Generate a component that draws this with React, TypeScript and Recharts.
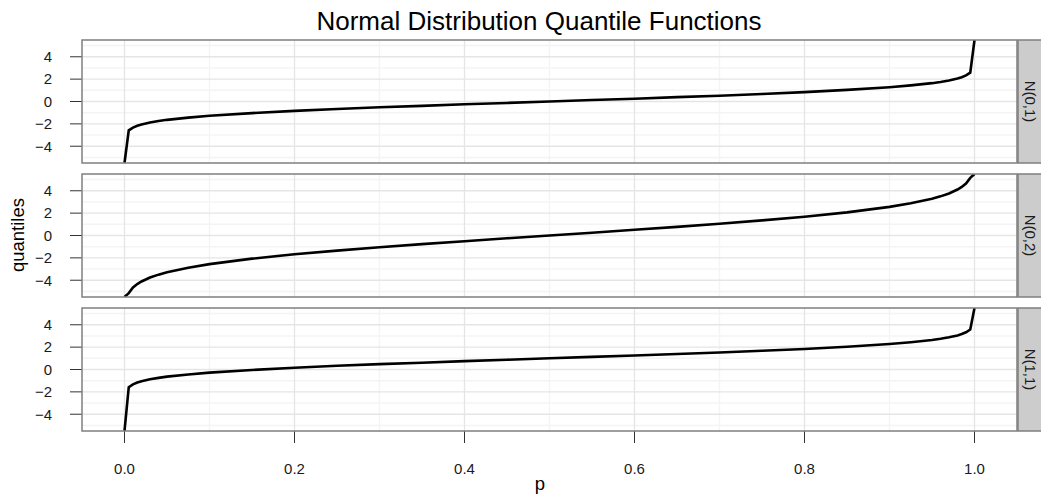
import { LineChart, Line, XAxis, YAxis, ReferenceLine } from 'recharts';

// probability grid shared by all three panels
const pValues = [
  0, 0.005, 0.01, 0.015, 0.02, 0.03, 0.04, 0.05, 0.075, 0.1,
  0.15, 0.2, 0.25, 0.3, 0.35, 0.4, 0.45, 0.5,
  0.55, 0.6, 0.65, 0.7, 0.75, 0.8, 0.85, 0.9,
  0.925, 0.95, 0.96, 0.97, 0.98, 0.985, 0.99, 0.995, 1,
];

// quantiles (ends run off the panel edge)
const n01Values = [
  -5.5, -2.58, -2.33, -2.17, -2.05, -1.88, -1.75, -1.64, -1.44, -1.28,
  -1.04, -0.84, -0.67, -0.52, -0.39, -0.25, -0.13, 0,
  0.13, 0.25, 0.39, 0.52, 0.67, 0.84, 1.04, 1.28,
  1.44, 1.64, 1.75, 1.88, 2.05, 2.17, 2.33, 2.58, 5.5,
];
const n02Values = [
  -5.5, -5.15, -4.65, -4.34, -4.11, -3.76, -3.5, -3.29, -2.88, -2.56,
  -2.07, -1.68, -1.35, -1.05, -0.77, -0.51, -0.25, 0,
  0.25, 0.51, 0.77, 1.05, 1.35, 1.68, 2.07, 2.56,
  2.88, 3.29, 3.5, 3.76, 4.11, 4.34, 4.65, 5.15, 5.5,
];
const n11Values = [
  -5.5, -1.58, -1.33, -1.17, -1.05, -0.88, -0.75, -0.64, -0.44, -0.28,
  -0.04, 0.16, 0.33, 0.48, 0.61, 0.75, 0.87, 1,
  1.13, 1.25, 1.39, 1.52, 1.67, 1.84, 2.04, 2.28,
  2.44, 2.64, 2.75, 2.88, 3.05, 3.17, 3.33, 3.58, 5.5,
];

const panelLabels = ['N(0,1)', 'N(0,2)', 'N(1,1)'];

const xTicks = [0, 0.2, 0.4, 0.6, 0.8, 1.0];
const xMinor = [0.1, 0.3, 0.5, 0.7, 0.9];
const yTicks = [-4, -2, 0, 2, 4];
const yMinor = [-5, -3, -1, 1, 3, 5];

const W = 1041;
const PANEL_LEFT = 82;
const PANEL_RIGHT = 1017;
const PANEL_H = 123;
const panelTops = [40, 174, 308];

function Panel({ values, top, showX }: { values: number[]; top: number; showX: boolean }) {
  const data = pValues.map((p, i) => ({ p, q: values[i] }));
  const height = showX ? PANEL_H + 68 : PANEL_H;

  return (
    <div style={{ position: 'absolute', left: 0, top }}>
      <LineChart
        width={W}
        height={height}
        data={data}
        margin={{ top: 0, right: W - PANEL_RIGHT, bottom: 0, left: 0 }}
      >
        <XAxis
          dataKey="p"
          type="number"
          domain={[-0.05, 1.05]}
          allowDataOverflow
          ticks={xTicks}
          hide={!showX}
          height={68}
          axisLine={false}
          tickSize={12}
          tickMargin={20}
          tickLine={{ stroke: '#333' }}
          tick={{ fill: '#1a1a1a', fontSize: 15 }}
          tickFormatter={(v) => Number(v).toFixed(1)}
        />
        <YAxis
          type="number"
          domain={[-5.5, 5.5]}
          allowDataOverflow
          ticks={yTicks}
          width={PANEL_LEFT}
          axisLine={false}
          tickSize={12}
          tickMargin={18}
          tickLine={{ stroke: '#333' }}
          tick={{ fill: '#1a1a1a', fontSize: 15 }}
          tickFormatter={(v) => String(v).replace('-', '\u2212')}
        />
        {yMinor.map((v) => (
          <ReferenceLine key={'ym' + v} y={v} stroke="#f4f4f4" strokeWidth={1.5} />
        ))}
        {xMinor.map((v) => (
          <ReferenceLine key={'xm' + v} x={v} stroke="#f4f4f4" strokeWidth={1.5} />
        ))}
        {yTicks.map((v) => (
          <ReferenceLine key={'y' + v} y={v} stroke="#e5e5e5" strokeWidth={1.3} />
        ))}
        {xTicks.map((v) => (
          <ReferenceLine key={'x' + v} x={v} stroke="#e5e5e5" strokeWidth={1.3} />
        ))}
        <Line
          type="linear"
          dataKey="q"
          stroke="#000"
          strokeWidth={2.6}
          dot={false}
          isAnimationActive={false}
        />
      </LineChart>
    </div>
  );
}

export default function App() {
  const seriesList = [n01Values, n02Values, n11Values];

  return (
    <div
      style={{
        position: 'absolute',
        left: 0,
        top: 0,
        width: W,
        height: 499,
        background: '#fff',
        fontFamily: '"Liberation Sans", Arial, sans-serif',
        overflow: 'hidden',
      }}
    >
      {seriesList.map((values, i) => (
        <Panel key={i} values={values} top={panelTops[i]} showX={i === 2} />
      ))}

      <svg
        width={W}
        height={499}
        style={{ position: 'absolute', left: 0, top: 0, pointerEvents: 'none' }}
      >
        {panelTops.map((t, i) => (
          <g key={i}>
            <rect
              x={PANEL_LEFT}
              y={t}
              width={PANEL_RIGHT - PANEL_LEFT}
              height={PANEL_H}
              fill="none"
              stroke="#7f7f7f"
              strokeWidth={1.5}
            />
            <rect
              x={PANEL_RIGHT + 1}
              y={t}
              width={30}
              height={PANEL_H}
              fill="#cccccc"
              stroke="#7f7f7f"
              strokeWidth={1.5}
            />
            <text
              transform={`translate(${PANEL_RIGHT + 13}, ${t + PANEL_H / 2}) rotate(90)`}
              textAnchor="middle"
              dominantBaseline="central"
              fontSize={15}
              fill="#1a1a1a"
            >
              {panelLabels[i]}
            </text>
          </g>
        ))}

        <text x={539} y={30} textAnchor="middle" fontSize={26} fill="#000">
          Normal Distribution Quantile Functions
        </text>
        <text
          transform="translate(17, 235) rotate(-90)"
          textAnchor="middle"
          dominantBaseline="central"
          fontSize={18.5}
          fill="#000"
        >
          quantiles
        </text>
        <text x={540} y={490} textAnchor="middle" fontSize={18.5} fill="#000">
          p
        </text>
      </svg>
    </div>
  );
}
